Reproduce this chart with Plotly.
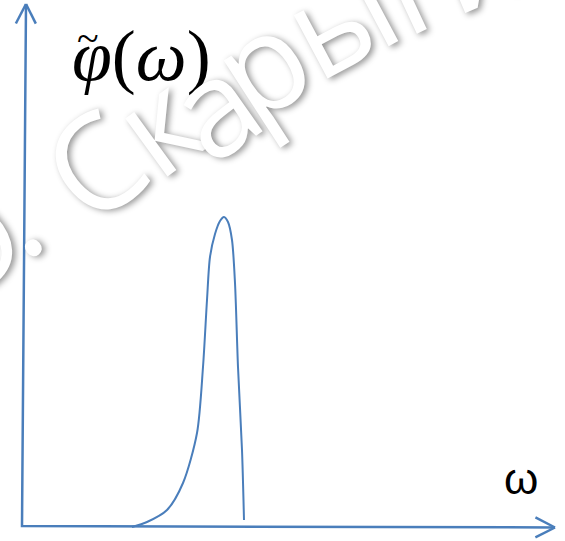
import numpy as np
import plotly.graph_objects as go

# Data: schematic spectrum phi(omega), arbitrary units (origin at axes corner)
omega = [110, 125, 145, 161, 175, 181, 185, 188, 193, 198, 202, 206, 210, 213, 216, 220, 222]
phi = [-1, 4, 16, 43, 93, 159, 226, 269, 292, 305, 309, 304, 286, 243, 159, 76, 6]

y_label = "<i>φ</i>(<i>ω</i>)"
y_label_tilde = "~"
x_label = "ω"
watermark_chars = ["Ю", ".", "С", "к", "а", "р", "ы", "г", "и", "н"]

# ---- layout constants (pixels of the 565x541 page) ----
W, H = 565, 541
OX, OY = 22, 526            # axes corner in page pixels
LINE_COLOR = "#4A7EBB"
ORIGIN = (0.0, 0.0)
X_TIP = (533.0, -1.5)
Y_TIP = (4.0, 522.0)

# watermark glyph centres (page px), tilt (deg) and glyph-centre height (em)
WM_SIZE = 134
WM_POS = [(-50, 258, 42, 0.357), (33, 247, 40, 0.06), (95, 166, 38, 0.357),
          (165, 134, 36, 0.268), (220, 117, 35, 0.268), (268, 74, 33, 0.268),
          (346, 28, 28, 0.268), (418, -6, 25, 0.268), (480, -32, 23, 0.268),
          (548, -58, 21, 0.268)]
BOX_MID = 0.388  # Open Sans: text-box middle above baseline, em


def arrow_arms(base, tip, length=22.0, half_angle_deg=27.0):
    b = np.array(base); t = np.array(tip)
    d = (t - b) / np.linalg.norm(t - b)
    a = np.radians(half_angle_deg)
    xs, ys = [], []
    for s in (1, -1):
        c, sn = np.cos(s * a), np.sin(s * a)
        r = np.array([d[0] * c - d[1] * sn, d[0] * sn + d[1] * c])
        p = t - length * r
        xs += [p[0], t[0], None]
        ys += [p[1], t[1], None]
    return xs, ys


fig = go.Figure()

# axes
fig.add_trace(go.Scatter(x=[Y_TIP[0], ORIGIN[0], X_TIP[0]], y=[Y_TIP[1], ORIGIN[1], X_TIP[1]],
                         mode="lines", line=dict(color=LINE_COLOR, width=2.5), hoverinfo="skip"))
for tip in (X_TIP, Y_TIP):
    ax_, ay_ = arrow_arms(ORIGIN, tip)
    fig.add_trace(go.Scatter(x=ax_, y=ay_, mode="lines",
                             line=dict(color=LINE_COLOR, width=2.5), hoverinfo="skip"))

# curve
fig.add_trace(go.Scatter(x=omega, y=phi, mode="lines",
                         line=dict(color=LINE_COLOR, width=2, shape="spline", smoothing=0.8),
                         hoverinfo="skip"))

fig.add_annotation(x=119, y=470, text=y_label, showarrow=False, xanchor="center", yanchor="middle",
                   font=dict(family="Liberation Serif", size=72, color="black"))
fig.add_annotation(x=66, y=488, text=y_label_tilde, showarrow=False, xanchor="center", yanchor="middle",
                   font=dict(family="Liberation Serif", size=40, color="black"))
fig.add_annotation(x=499, y=48, text=x_label, showarrow=False, xanchor="center", yanchor="middle",
                   font=dict(family="Liberation Sans", size=44, color="black"))

# watermark, letter by letter along an arc
for ch, (gx, gy, ang, gh) in zip(watermark_chars, WM_POS):
    t = np.radians(ang)
    off = (BOX_MID - gh) * WM_SIZE
    bx = gx - off * np.sin(t)
    by = gy - off * np.cos(t)
    fig.add_annotation(x=bx / W, y=1 - by / H, xref="paper", yref="paper", text=ch,
                       showarrow=False, xanchor="center", yanchor="middle", textangle=-ang,
                       font=dict(family="Open Sans", size=WM_SIZE, color="white",
                                 shadow="2px 3px 6px rgba(0,0,0,0.42)"))

fig.update_layout(width=W, height=H, autosize=False, margin=dict(l=0, r=0, t=0, b=0),
                  paper_bgcolor="white", plot_bgcolor="white", showlegend=False,
                  xaxis=dict(range=[-OX, W - OX], visible=False, fixedrange=True),
                  yaxis=dict(range=[OY - H, OY], visible=False, fixedrange=True))

fig.write_html("out.html")
